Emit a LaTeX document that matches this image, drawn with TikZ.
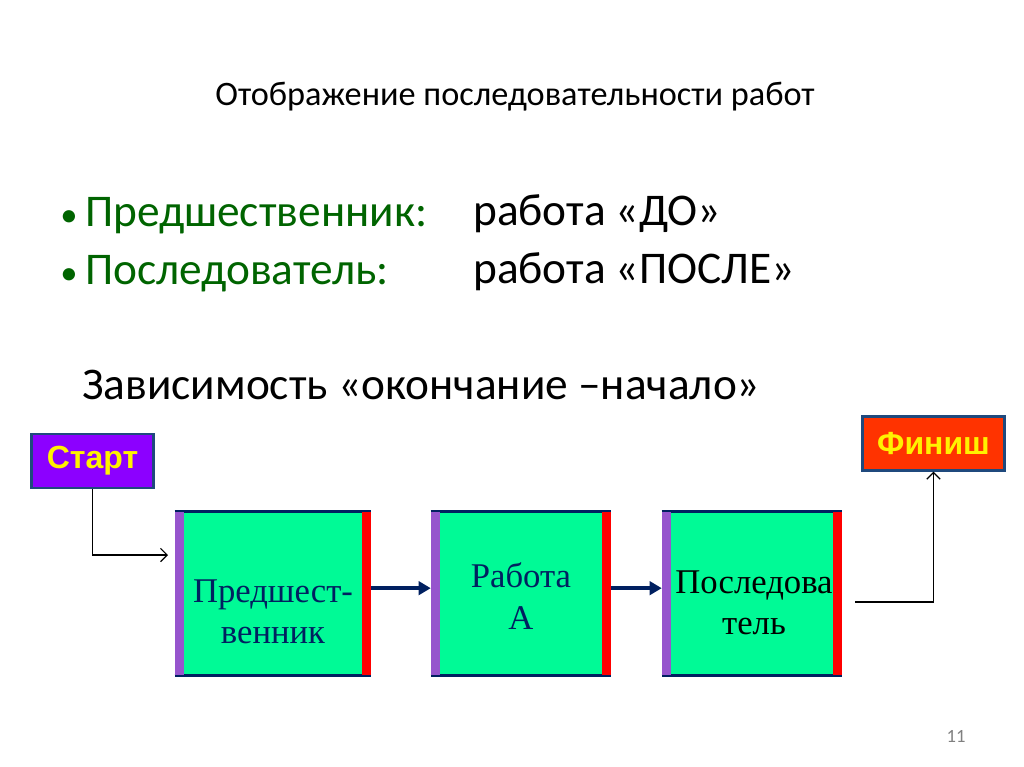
\documentclass[tikz,border=0pt]{standalone}
\usepackage{fontspec}
\setmainfont{Carlito}
\newfontfamily\taskfont{Liberation Serif}
\newfontfamily\markfont{Liberation Sans}
\usetikzlibrary{arrows.meta,positioning}

\definecolor{leadgreen}{RGB}{0,100,0}
\definecolor{taskfill}{RGB}{0,250,150}
\definecolor{tasknavy}{RGB}{0,32,96}
\definecolor{barviolet}{RGB}{150,85,205}
\definecolor{barred}{RGB}{255,0,0}
\definecolor{startfill}{RGB}{140,0,255}
\definecolor{finishfill}{RGB}{255,51,0}
\definecolor{markedge}{RGB}{31,73,125}

\tikzset{
  heading/.style  = {font=\fontsize{25.7}{30}\selectfont, inner sep=0},
  leadline/.style = {anchor=base west, inner sep=0, text=leadgreen,
                     font=\fontsize{34}{40}\selectfont},
  kindline/.style = {anchor=base west, inner sep=0,
                     font=\fontsize{34}{40}\selectfont},
  markbox/.style  = {rectangle, draw=markedge, line width=2.2pt,
                     text=yellow, font=\markfont\bfseries\fontsize{24}{28}\selectfont},
  taskbox/.style  = {rectangle, fill=taskfill, minimum height=122pt},
  tasktext/.style = {align=center, inner sep=0, text=tasknavy,
                     font=\taskfont\fontsize{26}{31}\selectfont},
  flow/.style     = {draw=tasknavy, line width=2.8pt,
                     -{Triangle[length=9pt,width=10pt]}},
  link/.style     = {draw=black, line width=0.9pt,
                     -{Straight Barb[length=5pt,width=10pt]}}
}

\begin{document}
\begin{tikzpicture}[x=0.75pt,y=-0.75pt]
\useasboundingbox (0,0) rectangle (1024,767);

\node[heading] (title) at (515,97) {Отображение последовательности работ};

\node[leadline] (pre)  at (60,226) {{\fontsize{26}{30}\selectfont•}\,Предшественник:};
\node[leadline] (post) at (60,284) {{\fontsize{26}{30}\selectfont•}\,Последователь:};
\node[kindline] (before) at (473,225) {работа «ДО»};
\node[kindline] (after)  at (473,283) {работа «ПОСЛЕ»};
\node[kindline] (dep) at (82,399) {Зависимость «окончание –начало»};

\node[markbox, fill=startfill, minimum width=91pt, minimum height=40.5pt]
  (start) at (92.5,461) {Старт};
\node[markbox, fill=finishfill, minimum width=107pt, minimum height=40pt]
  (finish) at (933.5,443.5) {Финиш};

% work boxes
\node[taskbox, minimum width=147pt] (pred)  at (273,593.5) {};
\node[taskbox, minimum width=135pt] (worka) at (521,593.5) {};
\node[taskbox, minimum width=135pt] (succ)  at (752,593.5) {};

\foreach \b in {pred,worka,succ}{
  \draw[tasknavy, line width=2.2pt] (\b.north west) -- (\b.north east);
  \draw[tasknavy, line width=2.2pt] (\b.south west) -- (\b.south east);
  \fill[barviolet] (\b.north west) rectangle ([xshift=6.8pt]\b.south west);
  \fill[barred] ([xshift=-6.8pt]\b.north east) rectangle (\b.south east);
}

\node[tasktext] (predtext)  at (273,612) {Предшест-\\венник};
\node[tasktext] (workatext) at (521,596) {Работа\\А};
\node[tasktext, text=black] (succtext) at (754,603) {Последова\\тель};

\draw[flow] ([yshift=4pt]pred.east) -- ([yshift=4pt]worka.west);
\draw[flow] ([yshift=4pt]worka.east) -- ([yshift=4pt]succ.west);

\coordinate (in)  at (168,555);
\coordinate (out) at (855,602);
\draw[link] (start.south) |- (in);
\draw[link] (out) -| (finish.south);

\node[text=gray, font=\fontsize{14}{16}\selectfont] (page) at (956,736) {11};
\end{tikzpicture}
\end{document}
